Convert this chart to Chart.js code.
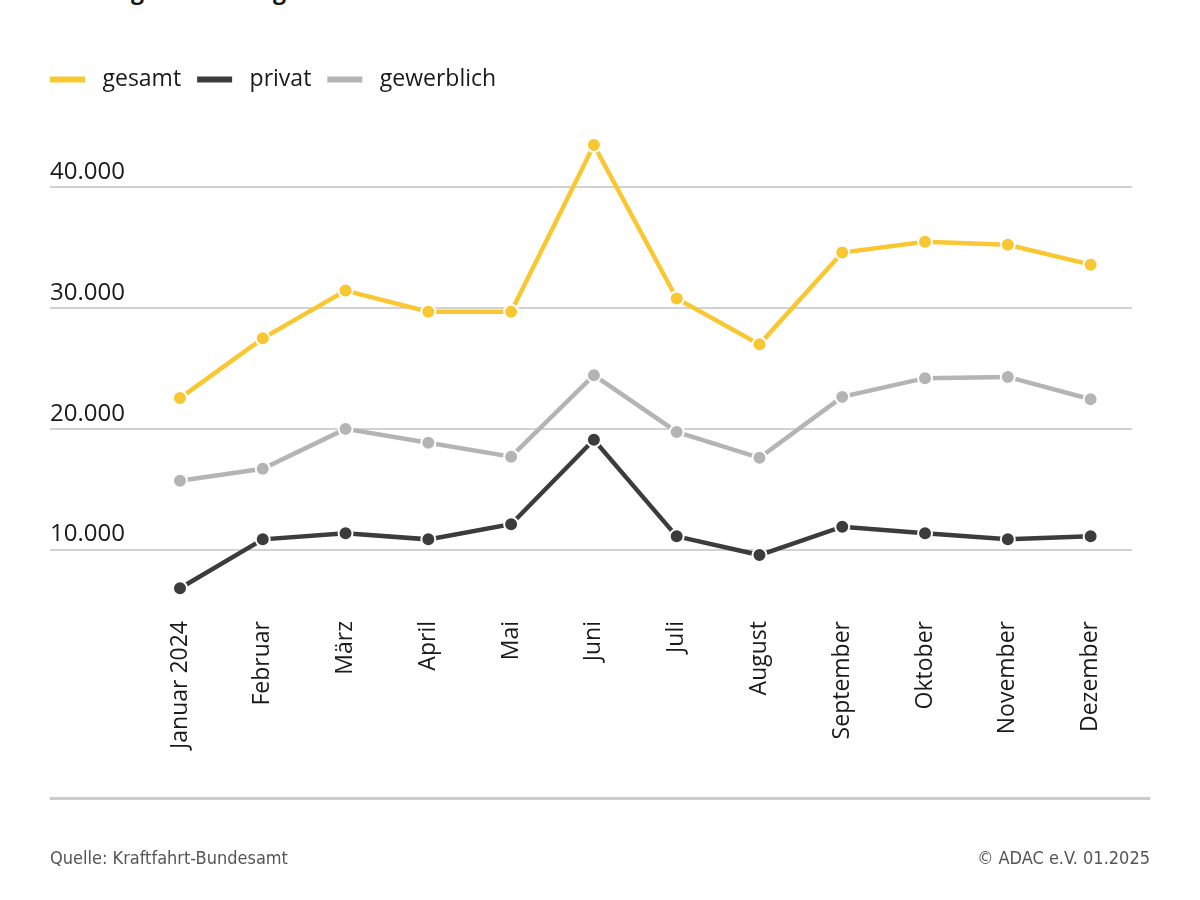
<!DOCTYPE html>
<html lang="de">
<head>
<meta charset="utf-8">
<title>Neuwagenzulassungen bei E-Autos</title>
<script src="https://cdn.jsdelivr.net/npm/chart.js@4.4.1/dist/chart.umd.min.js"></script>
<style>
    html, body { margin: 0; padding: 0; background: #fff; }
    body { width: 1200px; height: 900px; position: relative; overflow: hidden; font-family: "Open Sans", sans-serif; }
    #title { position: absolute; left: 50px; top: -25px; font-size: 23px; font-weight: 700; color: #1a1a1a; line-height: 30px; white-space: nowrap; }
    #wrap { position: absolute; left: 0; top: 0; width: 1200px; height: 900px; }
    #rule { position: absolute; left: 50px; top: 797px; width: 1100px; height: 3px; background: #cccccc; }
    .foot { position: absolute; top: 847px; font-family: "Liberation Sans Narrow", "DejaVu Sans Condensed", sans-serif; font-size: 18px; color: #555; }
    #source { left: 50px; }
    #copy { right: 50px; }
</style>
</head>
<body>
<div id="title">Neuwagenzulassungen bei E-Autos</div>
<div id="wrap"><canvas id="chart" width="1200" height="900"></canvas></div>
<div id="rule"></div>
<div class="foot" id="source">Quelle: Kraftfahrt-Bundesamt</div>
<div class="foot" id="copy">© ADAC e.V. 01.2025</div>

<script>
const months = ['Januar 2024', 'Februar', 'März', 'April', 'Mai', 'Juni', 'Juli', 'August', 'September', 'Oktober', 'November', 'Dezember'];
const gesamt = [22550, 27500, 31450, 29700, 29700, 43500, 30800, 27000, 34600, 35500, 35250, 33600];
const privat = [6800, 10850, 11350, 10850, 12100, 19100, 11100, 9550, 11900, 11350, 10850, 11100];
const gewerblich = [15700, 16700, 20000, 18850, 17700, 24450, 19750, 17600, 22650, 24200, 24300, 22450];
const yTicks = [10000, 20000, 30000, 40000];

const colors = {
    gesamt: '#f8c732',
    privat: '#3c3c3c',
    gewerblich: '#b4b4b4'
};

function toPoints(values) {
    return values.map((v, i) => ({ x: i, y: v }));
}

function makeDataset(label, values, color) {
    return {
        label: label,
        data: toPoints(values),
        borderColor: color,
        backgroundColor: color,
        borderWidth: 4.5,
        pointRadius: 7,
        pointBorderWidth: 2,
        pointBorderColor: '#ffffff',
        pointBackgroundColor: color,
        pointHoverRadius: 7,
        tension: 0
    };
}

// extra room between legend and plot
const legendGap = {
    id: 'legendGap',
    beforeInit(chart) {
        const fit = chart.legend.fit;
        chart.legend.fit = function() {
            fit.bind(chart.legend)();
            this.height += 26;
        };
    }
};

document.addEventListener('DOMContentLoaded', function() {
    const ctx = document.getElementById('chart');
    new Chart(ctx.getContext('2d'), {
        type: 'line',
        data: {
            datasets: [
                makeDataset('gesamt', gesamt, colors.gesamt),
                makeDataset('privat', privat, colors.privat),
                makeDataset('gewerblich', gewerblich, colors.gewerblich)
            ]
        },
        plugins: [legendGap],
        options: {
            responsive: false,
            animation: false,
            layout: {
                padding: { left: 34, right: 68, top: 52, bottom: 120 }
            },
            scales: {
                x: {
                    type: 'linear',
                    min: -1.57,
                    max: 11.5,
                    grid: { display: false },
                    border: { display: false },
                    afterFit: function(scale) { scale.height = 170; },
                    afterBuildTicks: function(axis) {
                        axis.ticks = months.map((_, i) => ({ value: i }));
                    },
                    ticks: {
                        minRotation: 90,
                        maxRotation: 90,
                        padding: 3,
                        color: '#1a1a1a',
                        font: { family: 'Open Sans', size: 23 },
                        callback: function(value) { return months[value] || ''; }
                    }
                },
                y: {
                    min: 5000,
                    max: 45000,
                    afterFit: function(scale) { scale.width = 16; },
                    afterBuildTicks: function(axis) {
                        axis.ticks = yTicks.map(v => ({ value: v }));
                    },
                    grid: {
                        color: '#d2d2d2',
                        lineWidth: 2,
                        drawTicks: false
                    },
                    border: { display: false },
                    ticks: {
                        mirror: true,
                        padding: 0,
                        labelOffset: -15,
                        color: '#1a1a1a',
                        font: { family: 'Open Sans', size: 24 },
                        callback: function(value) {
                            return value.toLocaleString('de-DE');
                        }
                    }
                }
            },
            plugins: {
                legend: {
                    display: true,
                    position: 'top',
                    align: 'start',
                    labels: {
                        boxWidth: 35,
                        boxHeight: 6,
                        padding: 16,
                        color: '#1a1a1a',
                        font: { family: 'Open Sans', size: 23 },
                        generateLabels: function(chart) {
                            return chart.data.datasets.map((ds, i) => ({
                                text: ' ' + ds.label,
                                fillStyle: ds.borderColor,
                                strokeStyle: ds.borderColor,
                                lineWidth: 0,
                                fontColor: '#1a1a1a',
                                datasetIndex: i
                            }));
                        }
                    }
                },
                tooltip: { enabled: false }
            }
        }
    });
});
</script>
</body>
</html>
